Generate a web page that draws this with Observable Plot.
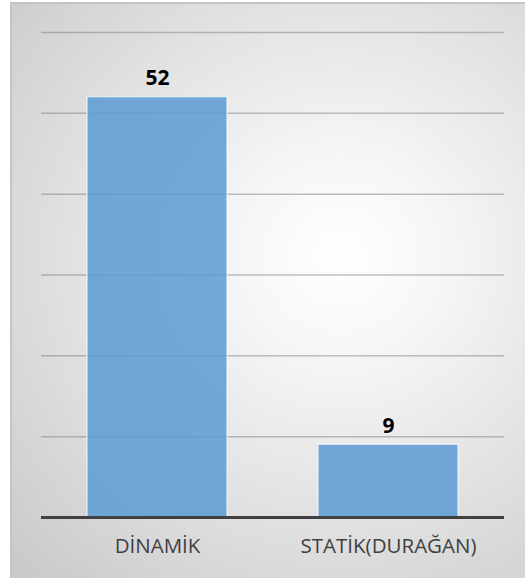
<!DOCTYPE html>
<html>
<head>
<meta charset="utf-8">
<script src="https://cdn.jsdelivr.net/npm/d3@7"></script>
<script src="https://cdn.jsdelivr.net/npm/@observablehq/plot@0.6"></script>
<style>
  html, body { margin: 0; padding: 0; background: #ffffff; }
  #wrap { position: relative; width: 525px; height: 580px; overflow: hidden; }
  #panel {
    position: absolute; left: 10px; top: 2px; width: 515px; height: 576px;
    box-sizing: border-box;
    border-left: 2px solid #c4c4c4; border-top: 2px solid #c4c4c4;
    background: radial-gradient(ellipse farthest-corner at 64% 44%, #ffffff 0%, #f6f6f6 22%, #e0e0e0 60%, #c8c8c8 100%);
  }
  #chart { position: absolute; left: 0; top: 0; }
</style>
</head>
<body>
<div id="wrap"><div id="panel"></div><div id="chart"></div></div>
<script>
const categories = ["DİNAMİK", "STATİK(DURAĞAN)"];
const values = [52, 9];
const yTicks = [0, 10, 20, 30, 40, 50, 60];

const data = categories.map((c, i) => ({category: c, value: values[i]}));

const chart = Plot.plot({
  width: 525,
  height: 580,
  marginLeft: 41,
  marginRight: 21,
  marginTop: 32,
  marginBottom: 63,
  style: {background: "transparent", fontFamily: "'Open Sans', sans-serif"},
  x: {domain: categories, paddingInner: 0.395, paddingOuter: 0.1975, label: null},
  y: {domain: [0, 60], label: null, axis: null},
  marks: [
    Plot.ruleY(yTicks.filter(d => d > 0), {stroke: "#808080", strokeOpacity: 0.5, strokeWidth: 1.5}),
    Plot.barY(data, {x: "category", y: "value", fill: "#5b9bd5", fillOpacity: 0.85, stroke: "#ffffff", strokeOpacity: 0.6, strokeWidth: 1.5}),
    Plot.ruleY([0], {stroke: "#404040", strokeWidth: 3}),
    Plot.text(data, {x: "category", y: "value", text: d => String(d.value), lineAnchor: "bottom", dy: -12, fontSize: 21, fontWeight: "bold", fill: "#000000"}),
    Plot.axisX({tickSize: 0, tickPadding: 21, fontSize: 20.5, fill: "#404040", label: null})
  ]
});
document.getElementById("chart").appendChild(chart);
</script>
</body>
</html>
